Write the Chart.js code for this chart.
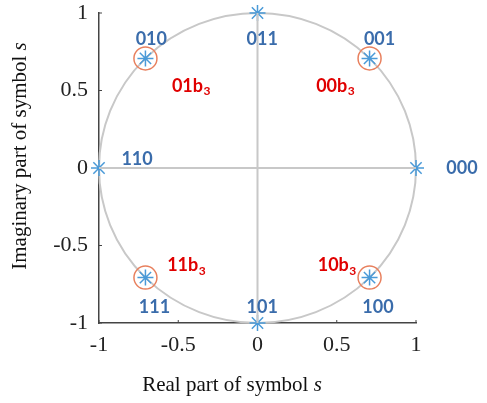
<!DOCTYPE html>
<html>
<head>
<meta charset="utf-8">
<script src="https://cdn.jsdelivr.net/npm/chart.js@4.4.1/dist/chart.umd.min.js"></script>
<style>
    html, body { margin: 0; padding: 0; background: #fff; }
    #wrap { width: 487px; height: 403px; }
</style>
</head>
<body>
<div id="wrap"><canvas id="psk" width="487" height="403"></canvas></div>
<script>
// 8-PSK constellation (real / imaginary parts)
const symbolRe = [1, 0.707, 0, -0.707, -1, -0.707, 0, 0.707];
const symbolIm = [0, 0.707, 1, 0.707, 0, -0.707, -1, -0.707];

// symbols that get the orange ring
const ringRe = [0.707, -0.707, -0.707, 0.707];
const ringIm = [0.707, 0.707, -0.707, -0.707];

// bit labels and where they sit
const bitLabels = ['000', '001', '011', '010', '110', '111', '101', '100'];
const bitLabelRe = [1.29, 0.77, 0.03, -0.67, -0.76, -0.65, 0.03, 0.76];
const bitLabelIm = [0, 0.83, 0.83, 0.83, 0.06, -0.90, -0.90, -0.90];

// quadrant labels (b with subscript 3)
const quadLabels = ['00', '01', '11', '10'];
const quadRe = [0.49, -0.42, -0.45, 0.50];
const quadIm = [0.53, 0.53, -0.63, -0.63];

const axisTicks = [-1, -0.5, 0, 0.5, 1];
const axisTickText = ['-1', '-0.5', '0', '0.5', '1'];
const circleRadius = 1;

const serif = "'Liberation Serif', 'Times New Roman', serif";
const labelFont = "Lato, 'Open Sans', sans-serif";

// unit circle + inward tick marks, drawn from the scales
const circlePlugin = {
    id: 'unitCircle',
    beforeDatasetsDraw(chart) {
        const { ctx, scales: { x, y } } = chart;
        const cx = x.getPixelForValue(0), cy = y.getPixelForValue(0);
        const rx = x.getPixelForValue(circleRadius) - cx;
        const ry = cy - y.getPixelForValue(circleRadius);
        ctx.save();
        ctx.strokeStyle = '#c8c8c8';
        ctx.lineWidth = 2;
        ctx.beginPath();
        ctx.ellipse(cx, cy, rx, ry, 0, 0, Math.PI * 2);
        ctx.stroke();

        // small inward ticks
        ctx.strokeStyle = '#444';
        ctx.lineWidth = 1;
        const left = x.getPixelForValue(-1), bottom = y.getPixelForValue(-1);
        axisTicks.forEach(v => {
            const px = x.getPixelForValue(v);
            ctx.beginPath(); ctx.moveTo(px, bottom); ctx.lineTo(px, bottom - 3); ctx.stroke();
            const py = y.getPixelForValue(v);
            ctx.beginPath(); ctx.moveTo(left, py); ctx.lineTo(left + 3, py); ctx.stroke();
        });
        ctx.restore();
    }
};

// text annotations and axis titles
const labelPlugin = {
    id: 'labels',
    afterDatasetsDraw(chart) {
        const { ctx, scales: { x, y } } = chart;
        ctx.save();
        ctx.textAlign = 'center';
        ctx.textBaseline = 'middle';
        ctx.fillStyle = '#3a6cab';
        ctx.font = 'bold 18px ' + labelFont;
        bitLabels.forEach((t, i) => {
            ctx.fillText(t, x.getPixelForValue(bitLabelRe[i]), y.getPixelForValue(bitLabelIm[i]));
        });

        ctx.fillStyle = '#e00000';
        quadLabels.forEach((t, i) => {
            const px = x.getPixelForValue(quadRe[i]), py = y.getPixelForValue(quadIm[i]);
            ctx.font = 'bold 18px ' + labelFont;
            const main = t + 'b';
            const w1 = ctx.measureText(main).width;
            ctx.font = 'bold 12px ' + labelFont;
            const w2 = ctx.measureText('3').width;
            const start = px - (w1 + w2) / 2;
            ctx.textAlign = 'left';
            ctx.font = 'bold 18px ' + labelFont;
            ctx.fillText(main, start, py);
            ctx.font = 'bold 12px ' + labelFont;
            ctx.fillText('3', start + w1 + 0.5, py + 5);
            ctx.textAlign = 'center';
        });

        // axis titles with italic s
        ctx.fillStyle = '#111';
        ctx.textAlign = 'left';
        const drawTitle = (txt, cx, cy, rot) => {
            ctx.save();
            ctx.translate(cx, cy);
            ctx.rotate(rot);
            ctx.font = '21px ' + serif;
            const w1 = ctx.measureText(txt).width;
            ctx.font = 'italic 21px ' + serif;
            const w2 = ctx.measureText('s').width;
            const s = -(w1 + w2) / 2;
            ctx.font = '21px ' + serif;
            ctx.fillText(txt, s, 0);
            ctx.font = 'italic 21px ' + serif;
            ctx.fillText('s', s + w1, 0);
            ctx.restore();
        };
        drawTitle('Real part of symbol ', 232, 385, 0);
        drawTitle('Imaginary part of symbol ', 20, 156, -Math.PI / 2);
        ctx.restore();
    }
};

const symbols = symbolRe.map((v, i) => ({ x: v, y: symbolIm[i] }));
const rings = ringRe.map((v, i) => ({ x: v, y: ringIm[i] }));
const tickText = v => axisTickText[axisTicks.indexOf(v)] ?? '';

new Chart(document.getElementById('psk'), {
    type: 'scatter',
    data: {
        datasets: [
            {
                type: 'line',
                data: [{ x: -1, y: 0 }, { x: 1, y: 0 }],
                borderColor: '#c8c8c8', borderWidth: 2, pointRadius: 0
            },
            {
                type: 'line',
                data: [{ x: 0, y: -1 }, { x: 0, y: 1 }],
                borderColor: '#c8c8c8', borderWidth: 2, pointRadius: 0
            },
            {
                data: rings,
                pointStyle: 'circle', pointRadius: 11.5,
                borderColor: '#e8805e', backgroundColor: 'rgba(0,0,0,0)',
                borderWidth: 1.5, clip: false
            },
            {
                data: symbols,
                pointStyle: 'star', pointRadius: 8,
                borderColor: '#4a9ad8', borderWidth: 1.5, clip: false
            }
        ]
    },
    options: {
        responsive: false,
        animation: false,
        events: [],
        layout: { padding: { top: 11, right: 71, left: 0, bottom: 0 } },
        plugins: { legend: { display: false }, tooltip: { enabled: false } },
        scales: {
            x: {
                type: 'linear', min: -1, max: 1,
                afterFit: s => { s.height = 80; s.paddingLeft = 0; s.paddingRight = 0; },
                afterBuildTicks: s => { s.ticks = axisTicks.map(v => ({ value: v })); },
                grid: { drawOnChartArea: false, drawTicks: false },
                border: { display: true, color: '#444', width: 1.5 },
                ticks: { padding: 9, color: '#222', font: { family: serif, size: 22 }, callback: tickText }
            },
            y: {
                type: 'linear', min: -1, max: 1,
                afterFit: s => { s.width = 99; s.paddingTop = 0; s.paddingBottom = 0; },
                afterBuildTicks: s => { s.ticks = axisTicks.map(v => ({ value: v })); },
                grid: { drawOnChartArea: false, drawTicks: false },
                border: { display: true, color: '#444', width: 1.5 },
                ticks: { padding: 11, color: '#222', font: { family: serif, size: 22 }, callback: tickText }
            }
        }
    },
    plugins: [circlePlugin, labelPlugin]
});
</script>
</body>
</html>
